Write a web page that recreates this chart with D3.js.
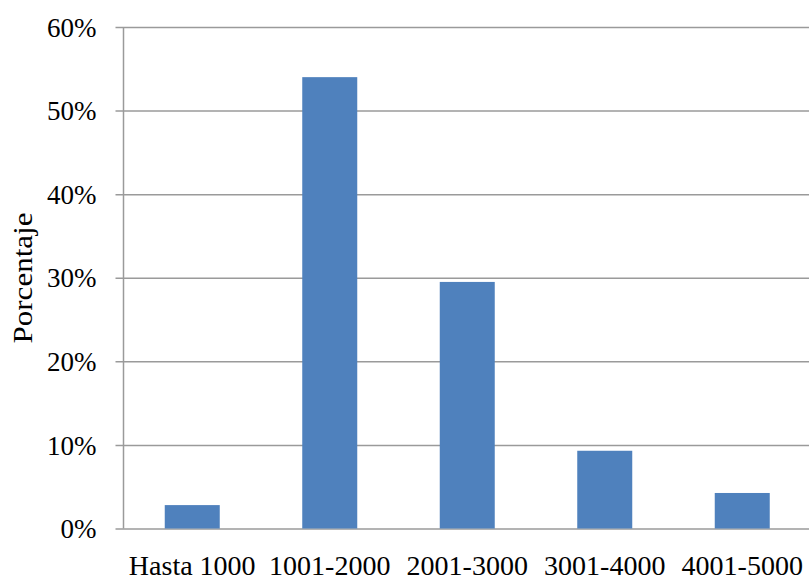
<!DOCTYPE html>
<html>
<head>
<meta charset="utf-8">
<script src="https://cdn.jsdelivr.net/npm/d3@7"></script>
<style>
  body { margin: 0; background: #fff; }
  text { font-family: "Liberation Serif", "Times New Roman", serif; fill: #000; }
</style>
</head>
<body>
<svg id="chart" width="809" height="580"></svg>
<script>
// categories and values (percent of total)
const categories = ["Hasta 1000", "1001-2000", "2001-3000", "3001-4000", "4001-5000"];
const values = [2.8, 54.0, 29.5, 9.3, 4.25];
const yTicks = [0, 10, 20, 30, 40, 50, 60];

const margin = { top: 27, left: 123.5, bottom: 51.5 };
const plotW = 687.5;
const plotH = 580 - margin.top - margin.bottom;

const svg = d3.select("#chart");
const g = svg.append("g")
    .attr("transform", "translate(" + margin.left + "," + margin.top + ")");

const x = d3.scaleBand()
    .domain(categories)
    .range([0, plotW])
    .paddingInner(0.6)
    .paddingOuter(0.3);

const y = d3.scaleLinear()
    .domain([0, 60])
    .range([plotH, 0]);

// gridlines with tick marks to the left
const yAxis = d3.axisLeft(y)
    .tickValues(yTicks)
    .tickSize(-plotW)
    .tickFormat(d => d + "%");

const ya = g.append("g").call(yAxis);
ya.select(".domain").remove();
ya.selectAll(".tick line")
    .attr("x1", -8)
    .attr("stroke", "#9a9a9a")
    .attr("stroke-width", 1.5);
ya.selectAll(".tick text")
    .attr("x", -27)
    .attr("dy", "0.34em")
    .style("font-size", "27px")
    .style("font-family", "Liberation Serif");

// vertical axis line
g.append("line")
    .attr("x1", 0).attr("x2", 0)
    .attr("y1", 0).attr("y2", plotH)
    .attr("stroke", "#9a9a9a")
    .attr("stroke-width", 1.5);

// bars
g.selectAll("rect.bar")
    .data(values)
    .enter()
    .append("rect")
    .attr("class", "bar")
    .attr("x", (d, i) => x(categories[i]))
    .attr("y", d => y(d))
    .attr("width", x.bandwidth())
    .attr("height", d => plotH - y(d))
    .style("fill", "#4f81bd");

// category labels
g.selectAll("text.cat")
    .data(categories)
    .enter()
    .append("text")
    .attr("class", "cat")
    .attr("x", d => x(d) + x.bandwidth() / 2)
    .attr("y", plotH + 46)
    .attr("text-anchor", "middle")
    .style("font-size", "28px")
    .text(d => d);

// axis title
svg.append("text")
    .attr("transform", "translate(32,278) rotate(-90)")
    .attr("text-anchor", "middle")
    .style("font-size", "27px")
    .attr("textLength", 131)
    .attr("lengthAdjust", "spacingAndGlyphs")
    .text("Porcentaje");
</script>
</body>
</html>
